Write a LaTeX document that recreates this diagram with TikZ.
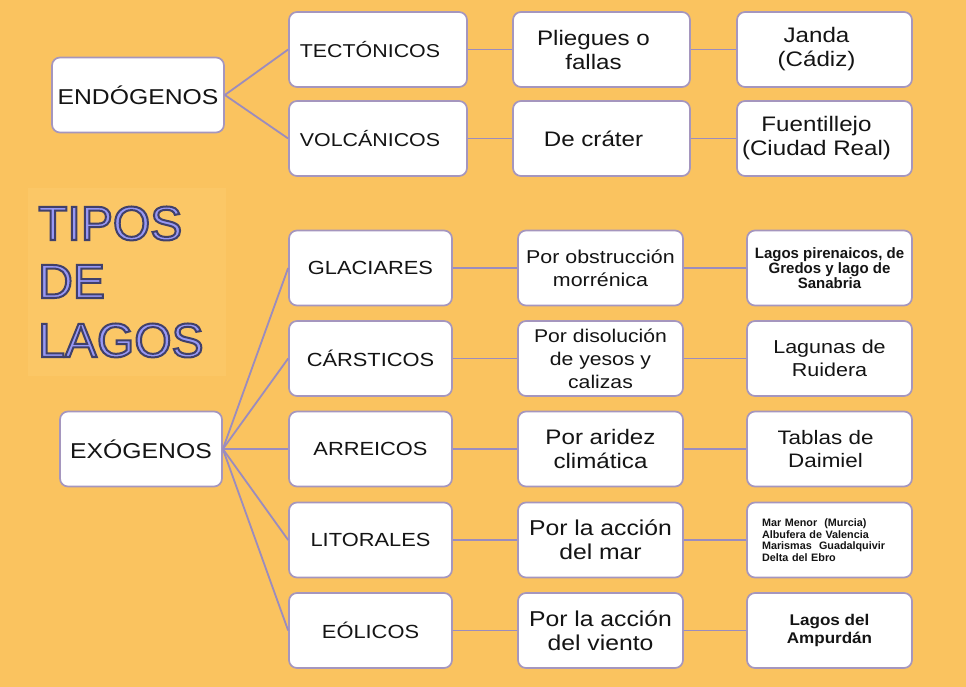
\documentclass[tikz,border=0pt]{standalone}
\usepackage{fontspec}
\setmainfont{Liberation Sans}[FakeStretch=1.15]
\newfontfamily\plainfont{Liberation Sans}
\newfontfamily\widefont{Liberation Sans}[FakeStretch=1.1]
\definecolor{bg}{RGB}{250,195,95}
\definecolor{bglight}{RGB}{251,199,102}
\definecolor{boxc}{RGB}{165,150,190}
\definecolor{linkc}{RGB}{155,140,190}
\definecolor{txt}{RGB}{20,20,20}
\definecolor{tfill}{RGB}{152,152,245}
\newcommand\outlined[1]{\special{pdf:literal direct 0.25 0.25 0.42 RG 2 w 2 Tr}#1\special{pdf:literal direct 0 Tr}}
\newcommand\lsh[1]{#1\hspace*{16pt}}
\newcommand\ssh[1]{#1\hspace*{8pt}}
\begin{document}
\begin{tikzpicture}[x=1pt,y=-1pt,
  box/.style={draw=boxc, line width=1.7pt, rounded corners=8pt, fill=white,
    minimum height=75pt, align=center, inner sep=0pt, text=txt},
  big/.style={font=\fontsize{21.5}{25}\selectfont},
  cat/.style={font=\fontsize{19}{23}\selectfont},
  mid/.style={font=\fontsize{21}{24}\selectfont},
  link/.style={draw=linkc, line width=1.8pt},
  ttl/.style={anchor=base west, inner sep=0pt, text=tfill, font=\plainfont\fontsize{48}{48}\selectfont}]
\fill[bg] (0,0) rectangle (966,687);
\useasboundingbox (0,0) rectangle (966,687);
\fill[bglight] (28,188) rectangle (226,376);

% title
\node[ttl] (t1) at (38,240) {\outlined{TIPOS}};
\node[ttl] (t2) at (38,298) {\outlined{DE}};
\node[ttl] (t3) at (38,357) {\outlined{LAGOS}};

% endogenos
\node[box, big, minimum width=172pt] (end) at (138,95) {ENDÓGENOS};
\node[box, cat, font=\fontsize{18.6}{23}\selectfont, minimum width=178pt] (tec) at (378,49.5) {\lsh{TECTÓNICOS}};
\node[box, cat, font=\fontsize{18.6}{23}\selectfont, minimum width=178pt] (vol) at (378,138.5) {\lsh{VOLCÁNICOS}};
\node[box, mid, minimum width=177pt] (ple) at (601.5,49.5) {\lsh{Pliegues o}\\\lsh{fallas}};
\node[box, mid, minimum width=177pt] (cra) at (601.5,138.5) {\lsh{De cráter}};
\node[box, mid, minimum width=175pt] (jan) at (824.5,49.5) {\lsh{Janda}\\\lsh{(Cádiz)}};
\node[box, mid, minimum width=175pt] (fue) at (824.5,138.5) {\lsh{Fuentillejo}\\\lsh{(Ciudad Real)}};

\draw[link] (end.east) -- (tec.west);
\draw[link] (end.east) -- (vol.west);
\draw[link] (tec.east) -- (ple.west);
\draw[link] (vol.east) -- (cra.west);
\draw[link] (ple.east) -- (jan.west);
\draw[link] (cra.east) -- (fue.west);

% exogenos
\node[box, big, minimum width=162pt] (exo) at (141,449) {EXÓGENOS};
\node[box, cat, minimum width=163pt] (gla) at (370.5,268) {GLACIARES};
\node[box, cat, minimum width=163pt] (car) at (370.5,358.5) {CÁRSTICOS};
\node[box, cat, minimum width=163pt] (arr) at (370.5,449) {ARREICOS};
\node[box, cat, minimum width=163pt] (lit) at (370.5,540) {LITORALES};
\node[box, cat, minimum width=163pt] (eol) at (370.5,630.5) {EÓLICOS};

\node[box, minimum width=165pt, font=\fontsize{18.6}{23}\selectfont] (obs) at (600.5,268) {Por obstrucción\\morrénica};
\node[box, minimum width=165pt, font=\fontsize{18.4}{23}\selectfont] (dis) at (600.5,358.5) {Por disolución\\de yesos y\\calizas};
\node[box, minimum width=165pt, font=\fontsize{21}{23.5}\selectfont] (ari) at (600.5,449) {Por aridez\\climática};
\node[box, minimum width=165pt, font=\fontsize{21.5}{24}\selectfont] (mar) at (600.5,540) {Por la acción\\del mar};
\node[box, minimum width=165pt, font=\fontsize{21.5}{24}\selectfont] (vie) at (600.5,630.5) {Por la acción\\del viento};

\node[box, minimum width=165pt, font=\plainfont\fontsize{15}{15}\selectfont\bfseries] (pir) at (829.5,268) {Lagos pirenaicos, de\\Gredos y lago de\\Sanabria};
\node[box, minimum width=165pt, font=\fontsize{18.7}{23}\selectfont] (rui) at (829.5,358.5) {Lagunas de\\Ruidera};
\node[box, minimum width=165pt, font=\fontsize{19.5}{23}\selectfont] (tab) at (829.5,449) {\ssh{Tablas de}\\\ssh{Daimiel}};
\node[box, minimum width=165pt, align=left, text width=135pt, font=\plainfont\fontsize{10.8}{11.5}\selectfont\bfseries] (mme) at (829.5,540) {Mar Menor~~(Murcia)\\Albufera de Valencia\\Marismas~~Guadalquivir\\Delta del Ebro};
\node[box, minimum width=165pt, font=\widefont\fontsize{15.5}{18}\selectfont\bfseries] (amp) at (829.5,630.5) {Lagos del\\Ampurdán};

\foreach \c in {gla,car,arr,lit,eol} \draw[link] (exo.east) -- (\c.west);
\draw[link] (gla.east) -- (obs.west);
\draw[link] (car.east) -- (dis.west);
\draw[link] (arr.east) -- (ari.west);
\draw[link] (lit.east) -- (mar.west);
\draw[link] (eol.east) -- (vie.west);
\draw[link] (obs.east) -- (pir.west);
\draw[link] (dis.east) -- (rui.west);
\draw[link] (ari.east) -- (tab.west);
\draw[link] (mar.east) -- (mme.west);
\draw[link] (vie.east) -- (amp.west);
\end{tikzpicture}
\end{document}
